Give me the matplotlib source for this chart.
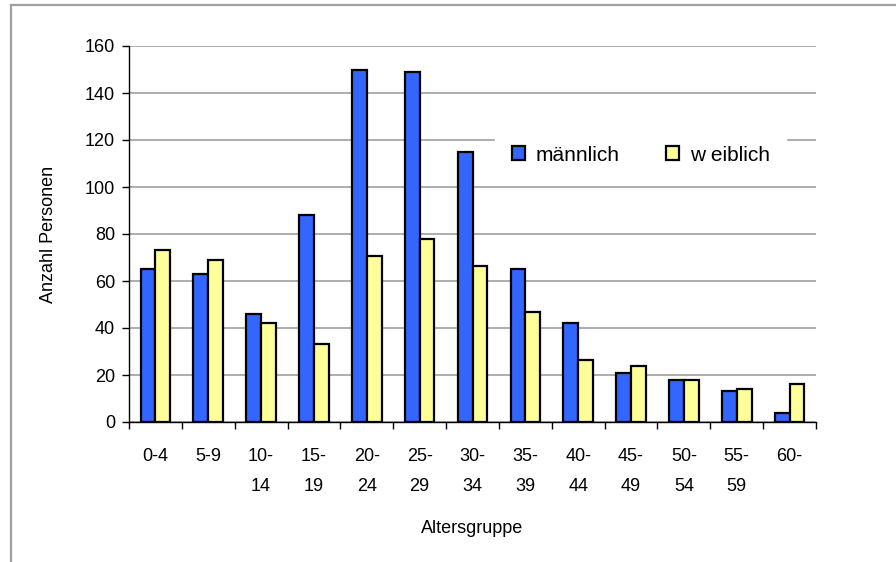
import numpy as np
import matplotlib.pyplot as plt
from matplotlib.lines import Line2D

plt.rcParams['font.family'] = ['Liberation Sans', 'DejaVu Sans']

gruppen = ['0-4', '5-9', '10-\n14', '15-\n19', '20-\n24', '25-\n29', '30-\n34',
           '35-\n39', '40-\n44', '45-\n49', '50-\n54', '55-\n59', '60-']
maennlich = [65, 63, 46, 88, 150, 149, 115, 65, 42, 21, 18, 13, 4]
weiblich = [73, 69, 42, 33, 70.5, 78, 66.5, 47, 26.5, 24, 18, 14, 16]

fig = plt.figure(figsize=(8.96, 5.62), dpi=100)
# grey frame lines (top and left) of the chart area
fig.add_artist(Line2D([11 / 896, 1], [1 - 5 / 562, 1 - 5 / 562], color='#a0a0a0', lw=1.6))
fig.add_artist(Line2D([11 / 896, 11 / 896], [0, 1 - 5 / 562], color='#a0a0a0', lw=1.6))

ax = fig.add_axes([129 / 896, 1 - 422 / 562, 687 / 896, 376 / 562])

x = np.arange(len(gruppen))
w = 0.28
ax.bar(x - w / 2, maennlich, w, color='#3366FF', edgecolor='black', lw=1.6,
       label='männlich', zorder=3)
ax.bar(x + w / 2, weiblich, w, color='#FFFF99', edgecolor='black', lw=1.6,
       label='w eiblich', zorder=3)

ax.set_xlim(-0.5, len(gruppen) - 0.5)
ax.set_ylim(0, 160)
ax.set_yticks(range(0, 161, 20))
ax.yaxis.grid(True, color='#a0a0a0', lw=1.2, zorder=0)

ax.set_xticks(x)
ax.set_xticklabels(gruppen, fontsize=13, linespacing=1.95)
ax.set_xticks(np.arange(-0.5, len(gruppen)), minor=True)
ax.tick_params(axis='x', which='major', length=0, pad=19)
ax.tick_params(axis='x', which='minor', length=5, width=1, direction='out')
ax.tick_params(axis='y', length=5, width=1, labelsize=13, pad=5)

for s in ['top', 'right']:
    ax.spines[s].set_visible(False)
ax.spines['left'].set_linewidth(1)
ax.spines['bottom'].set_linewidth(1)

ax.set_ylabel('Anzahl Personen', fontsize=13, labelpad=20)
ax.set_xlabel('Altersgruppe', fontsize=13, labelpad=18)

leg = ax.legend(ncol=2, loc='center', bbox_to_anchor=(0.745, 0.71),
                frameon=True, fancybox=False, facecolor='white', edgecolor='white',
                fontsize=15, handlelength=0.65, handleheight=0.65, columnspacing=2.2,
                handletextpad=0.5, borderpad=0.8, borderaxespad=0)
leg.set_zorder(5)
leg.get_frame().set_alpha(1)

fig.savefig('out.png', dpi=100)
